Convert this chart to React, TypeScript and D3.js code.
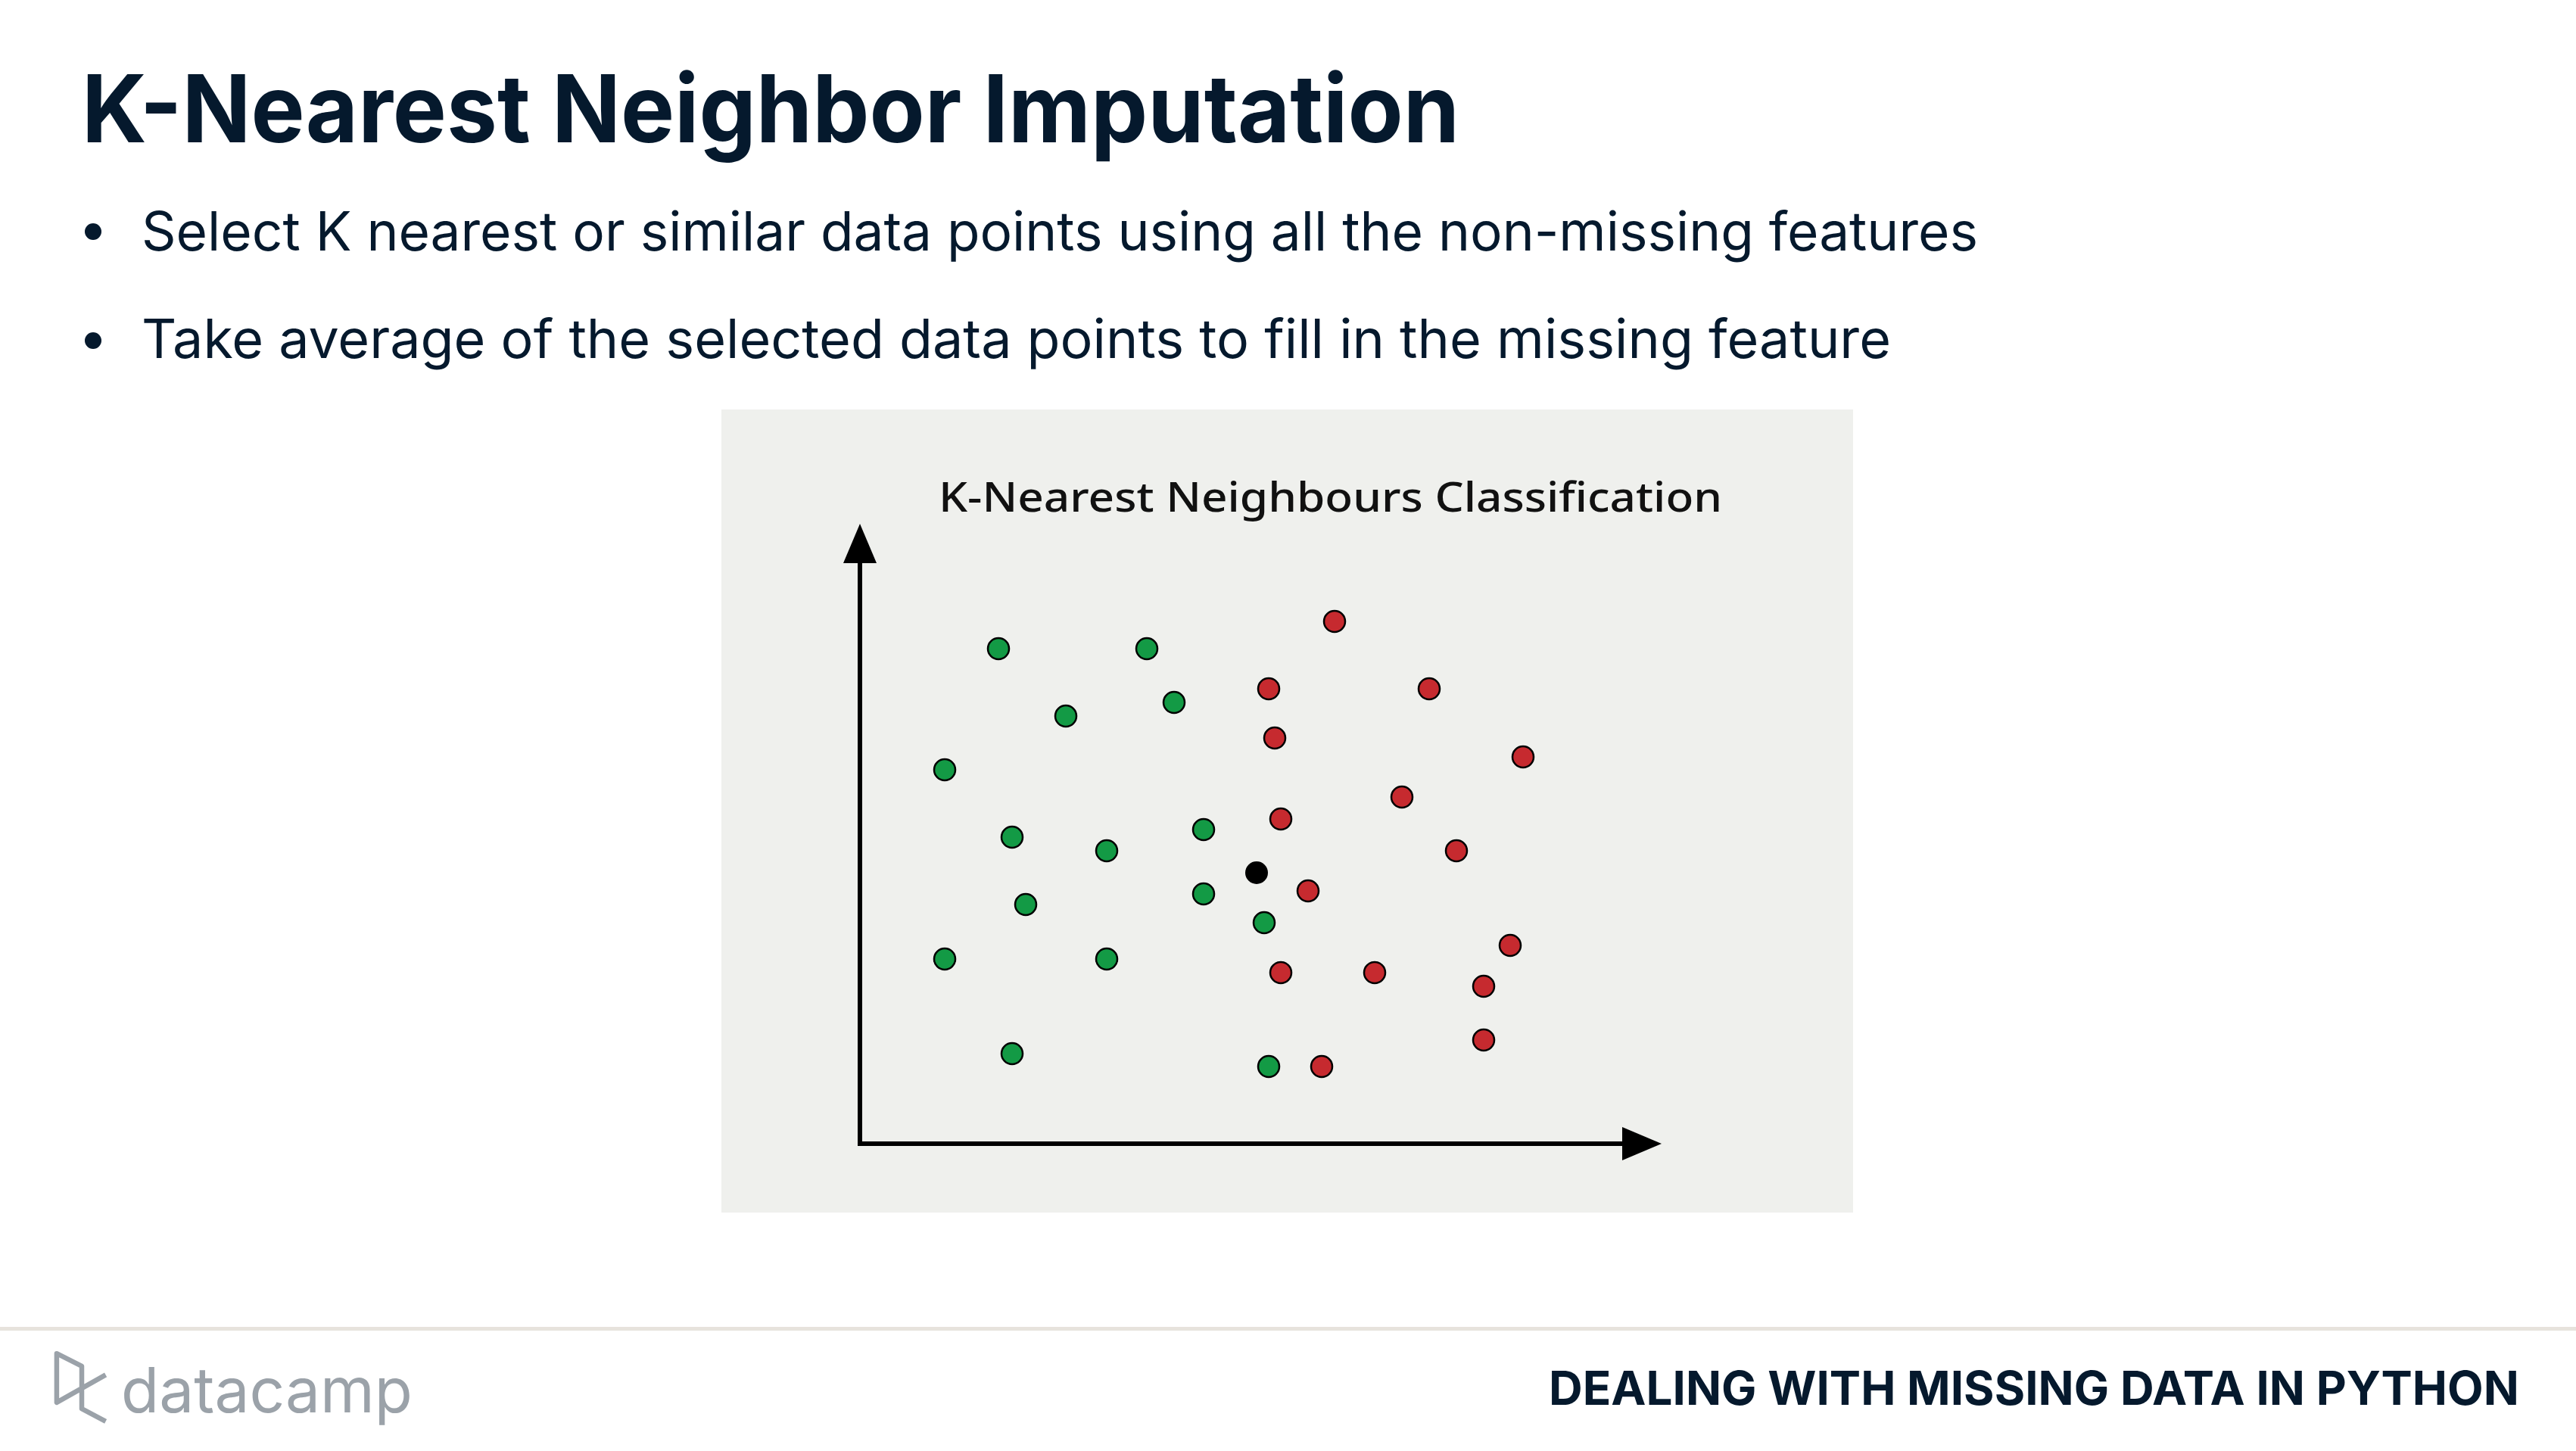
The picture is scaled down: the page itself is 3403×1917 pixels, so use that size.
import { useEffect } from "react";
import * as d3 from "d3";

// scatter points, in axis units (origin at bottom-left of the arrows)
const greenX = [1.83, 3.79, 2.72, 4.15, 1.12, 2.01, 3.26, 4.54, 2.19, 4.54, 5.34, 1.12, 3.26, 2.01, 5.40];
const greenY = [6.54, 6.54, 5.65, 5.83, 4.94, 4.05, 3.87, 4.15, 3.16, 3.30, 2.92, 2.44, 2.44, 1.19, 1.02];
const redX = [6.27, 5.40, 7.52, 5.48, 8.76, 7.16, 5.56, 7.88, 5.92, 8.59, 5.56, 6.80, 8.24, 8.24, 6.10];
const redY = [6.90, 6.01, 6.01, 5.36, 5.11, 4.58, 4.29, 3.87, 3.34, 2.62, 2.26, 2.26, 2.08, 1.37, 1.02];
const queryPoint = [5.24, 3.58];

const slideTitle = "K-Nearest Neighbor Imputation";
const bullets = [
  "Select K nearest or similar data points using all the non-missing features",
  "Take average of the selected data points to fill in the missing feature",
];
const chartTitle = "K-Nearest Neighbours Classification";
const footerTitle = "DEALING WITH MISSING DATA IN PYTHON";

const W = 3403;
const H = 1917;
const NAVY = "#05192d";
const GREEN = "#139a45";
const RED = "#c62a2f";

export default function App() {
  useEffect(() => {
    document.body.style.margin = "0";
    document.body.style.overflow = "hidden";
  }, []);

  const x = d3.scaleLinear().domain([0, 10]).range([1136, 2136]);
  const y = d3.scaleLinear().domain([0, 8]).range([1511, 711]);
  const xEnd = 10.59;
  const yEnd = 8.19;

  const green = greenX.map((v, i) => [v, greenY[i]]);
  const red = redX.map((v, i) => [v, redY[i]]);

  const bulletW = [2426, 2311];

  return (
    <svg width={W} height={H} style={{ position: "absolute", left: 0, top: 0, background: "#fff" }}>
      <text x={108} y={188} fontFamily="Inter" fontWeight={700} fontSize={124} fill={NAVY}
        textLength={1820} lengthAdjust="spacingAndGlyphs">{slideTitle}</text>

      {bullets.map((b, i) => (
        <g key={i}>
          <circle cx={123} cy={306 + i * 144} r={11} fill={NAVY} />
          <text x={187} y={331 + i * 142} fontFamily="Inter" fontSize={71} fill={NAVY}
            textLength={bulletW[i]} lengthAdjust="spacingAndGlyphs">{b}</text>
        </g>
      ))}

      {/* chart panel */}
      <rect x={953} y={541} width={1495} height={1061} fill="#eff0ed" />
      <text x={1240} y={676} fontFamily="'Noto Sans'" fontWeight={500} fontSize={54} fill="#111"
        textLength={1035} lengthAdjust="spacingAndGlyphs">{chartTitle}</text>

      {/* axes with arrow heads */}
      <line x1={x(0)} y1={y(0) + 3} x2={x(0)} y2={y(yEnd) + 50} stroke="#000" strokeWidth={6} />
      <line x1={x(0) - 3} y1={y(0)} x2={x(xEnd) - 50} y2={y(0)} stroke="#000" strokeWidth={6} />
      <path d={`M${x(0)},${y(yEnd)} L${x(0) - 22},${y(yEnd) + 52} L${x(0) + 22},${y(yEnd) + 52} Z`} fill="#000" />
      <path d={`M${x(xEnd)},${y(0)} L${x(xEnd) - 52},${y(0) - 22} L${x(xEnd) - 52},${y(0) + 22} Z`} fill="#000" />

      {green.map((d, i) => (
        <circle key={"g" + i} cx={x(d[0])} cy={y(d[1])} r={14} fill={GREEN} stroke="#000" strokeWidth={2.5} />
      ))}
      {red.map((d, i) => (
        <circle key={"r" + i} cx={x(d[0])} cy={y(d[1])} r={14} fill={RED} stroke="#000" strokeWidth={2.5} />
      ))}
      <circle cx={x(queryPoint[0])} cy={y(queryPoint[1])} r={15} fill="#000" />

      {/* footer */}
      <rect x={0} y={1753} width={W} height={5} fill="#e7e3dd" />
      <path d="M139.6,1816.4 L74.9,1852.9 L74.9,1788.2 L108,1804.8 L108,1861.2 L139.6,1877.8"
        fill="none" stroke="#9ba2a9" strokeWidth={6.5} strokeLinejoin="round" />
      <text x={160} y={1866} fontFamily="Inter" fontWeight={400} fontSize={82} fill="#9ba2a9"
        textLength={385} lengthAdjust="spacingAndGlyphs">datacamp</text>
      <text x={2046} y={1856} fontFamily="Inter" fontWeight={700} fontSize={62} fill={NAVY}
        textLength={1282} lengthAdjust="spacingAndGlyphs">{footerTitle}</text>
    </svg>
  );
}
